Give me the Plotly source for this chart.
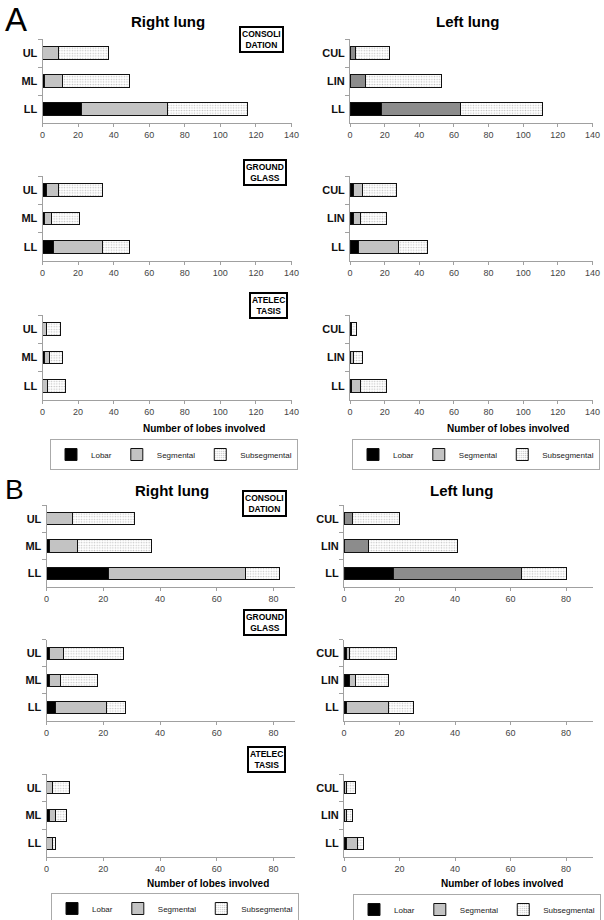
import plotly.graph_objects as go

W, H = 604, 920
FONT = "Liberation Sans, Arial, sans-serif"

# ---------------- data ----------------
right_lobes = ["UL", "ML", "LL"]
left_lobes = ["CUL", "LIN", "LL"]
series_names = ["Lobar", "Segmental", "Subsegmental"]
x_ticks_a = [0, 20, 40, 60, 80, 100, 120, 140]
x_ticks_b = [0, 20, 40, 60, 80]
panel_letters = ["A", "B"]
lung_titles = ["Right lung", "Left lung"]
finding_labels = ["CONSOLI<br>DATION", "GROUND<br>GLASS", "ATELEC<br>TASIS"]
x_title = "Number of lobes involved"

# Panel A - right lung (UL, ML, LL)
a_right_cons_lobar = [0, 1, 22]
a_right_cons_seg = [9, 10, 48]
a_right_cons_sub = [28, 38, 45]
a_right_gg_lobar = [2, 1, 6]
a_right_gg_seg = [7, 4, 28]
a_right_gg_sub = [25, 16, 15]
a_right_atel_lobar = [0, 1, 0]
a_right_atel_seg = [2, 3, 3]
a_right_atel_sub = [8, 7, 10]

# Panel A - left lung (CUL, LIN, LL)
a_left_cons_lobar = [0, 0, 18]
a_left_cons_seg = [3, 9, 46]
a_left_cons_sub = [20, 44, 47]
a_left_gg_lobar = [2, 2, 5]
a_left_gg_seg = [5, 4, 23]
a_left_gg_sub = [20, 15, 17]
a_left_atel_lobar = [0, 0, 1]
a_left_atel_seg = [1, 2, 5]
a_left_atel_sub = [3, 5, 15]

# Panel B - right lung (UL, ML, LL)
b_right_cons_lobar = [0, 1, 22]
b_right_cons_seg = [9, 10, 48]
b_right_cons_sub = [22, 26, 12]
b_right_gg_lobar = [1, 1, 3]
b_right_gg_seg = [5, 4, 18]
b_right_gg_sub = [21, 13, 7]
b_right_atel_lobar = [0, 1, 0]
b_right_atel_seg = [2, 2, 2]
b_right_atel_sub = [6, 4, 1]

# Panel B - left lung (CUL, LIN, LL)
b_left_cons_lobar = [0, 0, 18]
b_left_cons_seg = [3, 9, 46]
b_left_cons_sub = [17, 32, 16]
b_left_gg_lobar = [1, 2, 1]
b_left_gg_seg = [1, 2, 15]
b_left_gg_sub = [17, 12, 9]
b_left_atel_lobar = [0, 0, 1]
b_left_atel_seg = [1, 1, 4]
b_left_atel_sub = [3, 2, 2]

subplots = [
    (0, 0, 0, right_lobes, a_right_cons_lobar, a_right_cons_seg, a_right_cons_sub),
    (0, 0, 1, left_lobes, a_left_cons_lobar, a_left_cons_seg, a_left_cons_sub),
    (0, 1, 0, right_lobes, a_right_gg_lobar, a_right_gg_seg, a_right_gg_sub),
    (0, 1, 1, left_lobes, a_left_gg_lobar, a_left_gg_seg, a_left_gg_sub),
    (0, 2, 0, right_lobes, a_right_atel_lobar, a_right_atel_seg, a_right_atel_sub),
    (0, 2, 1, left_lobes, a_left_atel_lobar, a_left_atel_seg, a_left_atel_sub),
    (1, 0, 0, right_lobes, b_right_cons_lobar, b_right_cons_seg, b_right_cons_sub),
    (1, 0, 1, left_lobes, b_left_cons_lobar, b_left_cons_seg, b_left_cons_sub),
    (1, 1, 0, right_lobes, b_right_gg_lobar, b_right_gg_seg, b_right_gg_sub),
    (1, 1, 1, left_lobes, b_left_gg_lobar, b_left_gg_seg, b_left_gg_sub),
    (1, 2, 0, right_lobes, b_right_atel_lobar, b_right_atel_seg, b_right_atel_sub),
    (1, 2, 1, left_lobes, b_left_atel_lobar, b_left_atel_seg, b_left_atel_sub),
]

# ---------------- geometry (pixels) ----------------
col_geom = {  # (panel, col): (x0, xend, xmax)
    (0, 0): (42.5, 291.5, 140),
    (0, 1): (350, 592.5, 140),
    (1, 0): (46.5, 294.5, 87.4),
    (1, 1): (344, 593, 89.7),
}
row_geom = {  # (panel, row): (top, bottom)
    (0, 0): (39, 123), (0, 1): (176, 261), (0, 2): (315, 400),
    (1, 0): (505, 587), (1, 1): (639.5, 721), (1, 2): (774, 857),
}
legend_ids = {(0, 0): "legend", (0, 1): "legend2", (1, 0): "legend3", (1, 1): "legend4"}
legend_pos = {"legend": (174, 439), "legend2": (476, 439), "legend3": (175, 893), "legend4": (477, 894)}

LOBAR_COLOR = "#000000"
SEG_LIGHT = "#c3c3c3"
SEG_DARK = "#8c8c8c"


def fx(p):
    return p / W


def fy(p):
    return 1 - p / H


fig = go.Figure()
layout = dict(
    width=W, height=H, margin=dict(l=0, r=0, t=0, b=0, pad=0, autoexpand=False),
    paper_bgcolor="white", plot_bgcolor="white",
    barmode="stack", bargap=0.56,
    font=dict(family=FONT, color="#000"),
    showlegend=True,
)

for k, (panel, row, col, cats, lob, seg, sub) in enumerate(subplots):
    idx = k + 1
    xa = "x" if idx == 1 else f"x{idx}"
    ya = "y" if idx == 1 else f"y{idx}"
    seg_color = SEG_DARK if (row == 0 and col == 1) else SEG_LIGHT
    leg = legend_ids[(panel, col)]
    show = row == 2
    styles = [
        dict(color=LOBAR_COLOR, line=dict(color="#111", width=1)),
        dict(color=seg_color, line=dict(color="#111", width=1)),
        dict(color="white", line=dict(color="#111", width=1),
             pattern=dict(shape=".", size=2.6, solidity=0.25, fgcolor="#858585", bgcolor="white", fillmode="overlay")),
    ]
    for name, vals, st in zip(series_names, [lob, seg, sub], styles):
        fig.add_trace(go.Bar(
            y=cats, x=vals, orientation="h", name=name, marker=st,
            xaxis=xa, yaxis=ya, showlegend=show, legend=leg,
            hoverinfo="x+y+name",
        ))
    x0, xend, xmax = col_geom[(panel, col)]
    top, bot = row_geom[(panel, row)]
    ticks = x_ticks_a if panel == 0 else x_ticks_b
    layout["xaxis" if idx == 1 else f"xaxis{idx}"] = dict(
        domain=[fx(x0), fx(xend)], anchor=ya, range=[0, xmax], automargin=False,
        tickvals=ticks, showgrid=False, zeroline=False,
        showline=True, linecolor="#a0a0a0", linewidth=1,
        ticks="outside", ticklen=3, tickcolor="#a0a0a0",
        tickfont=dict(size=9, color="#444", family=FONT),
    )
    layout["yaxis" if idx == 1 else f"yaxis{idx}"] = dict(
        domain=[fy(bot), fy(top)], anchor=xa, type="category", automargin=False,
        categoryorder="array", categoryarray=cats, range=[2.5, -0.5],
        showgrid=False, zeroline=False,
        showline=True, linecolor="#a0a0a0", linewidth=1,
        ticks="outside", tickson="boundaries", ticklen=4, tickcolor="#a0a0a0",
        tickfont=dict(size=11, color="#111", family=FONT, weight="bold"),
        ticklabelstandoff=2,
    )

for name, (cx, ty) in legend_pos.items():
    layout[name] = dict(
        x=fx(cx), y=fy(ty), xref="paper", yref="paper",
        xanchor="center", yanchor="top", orientation="h",
        font=dict(size=8, family=FONT, color="#222"),
        bordercolor="#aaaaaa", borderwidth=1, bgcolor="white",
        itemwidth=30, tracegroupgap=0, traceorder="normal",
    )

annotations = []
# panel letters
for (txt, cx, cy, size) in [(panel_letters[0], 16, 20, 33), (panel_letters[1], 15, 489, 28)]:
    annotations.append(dict(text=txt, x=fx(cx), y=fy(cy), xref="paper", yref="paper",
                            xanchor="center", yanchor="middle", showarrow=False,
                            font=dict(size=size, family=FONT, color="#000")))
# lung titles
for (txt, cx, cy) in [(lung_titles[0], 168, 22), (lung_titles[1], 467, 22),
                      (lung_titles[0], 172, 490), (lung_titles[1], 461, 490)]:
    annotations.append(dict(text=txt, x=fx(cx), y=fy(cy), xref="paper", yref="paper",
                            xanchor="center", yanchor="middle", showarrow=False,
                            font=dict(size=15, family=FONT, color="#000", weight="bold")))
# finding boxes
for (txt, cx, cy) in [(finding_labels[0], 261, 40), (finding_labels[1], 264.5, 172.5),
                      (finding_labels[2], 268.5, 305.5), (finding_labels[0], 264, 503),
                      (finding_labels[1], 264.5, 622.5), (finding_labels[2], 266, 759)]:
    annotations.append(dict(text="<b>" + txt + "</b>", x=fx(cx), y=fy(cy), xref="paper", yref="paper",
                            xanchor="center", yanchor="middle", showarrow=False,
                            font=dict(size=8.5, family=FONT, color="#000"),
                            bordercolor="#000", borderwidth=2, borderpad=1, bgcolor="white"))
# x-axis titles
for (cx, cy) in [(204, 428), (508, 428), (208, 883), (502, 883)]:
    annotations.append(dict(text="<b>" + x_title + "</b>", x=fx(cx), y=fy(cy), xref="paper", yref="paper",
                            xanchor="center", yanchor="middle", showarrow=False,
                            font=dict(size=10, family=FONT, color="#000")))
layout["annotations"] = annotations

fig.update_layout(**layout)
fig.write_html("out.html", config={"displayModeBar": False},
               post_script="document.body.style.margin='0';document.body.style.overflow='hidden';")
